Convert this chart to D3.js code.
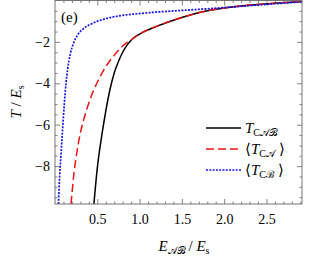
<!DOCTYPE html>
<html>
<head>
<meta charset="utf-8">
<script src="https://cdn.jsdelivr.net/npm/d3@7"></script>
<style>
  body { margin: 0; background: #fff; }
  .axis path { display: none; }
  .axis line { stroke: #666; stroke-width: 0.8; }
</style>
</head>
<body>
<svg id="chart" width="309" height="259"></svg>
<script>
// T_CAB (black solid)
const eBlack = [0.46, 0.50, 0.55, 0.60, 0.65, 0.70, 0.75, 0.80, 0.85, 0.90, 0.95, 1.0, 1.2, 1.4, 1.6, 1.8, 2.0, 2.2, 2.4, 2.6, 2.8, 2.92];
const tBlack = [-9.83, -8.1, -6.6, -5.35, -4.3, -3.5, -2.95, -2.5, -2.17, -1.92, -1.75, -1.62, -1.25, -0.95, -0.70, -0.50, -0.36, -0.26, -0.19, -0.13, -0.08, -0.05];
// <T_CA> (red dashed)
const eRed = [0.19, 0.22, 0.26, 0.30, 0.35, 0.40, 0.45, 0.50, 0.55, 0.60, 0.70, 0.80, 0.90, 1.0, 1.2, 1.4, 1.6, 1.8, 2.0, 2.2, 2.4, 2.6, 2.8, 2.92];
const tRed = [-9.83, -8.5, -7.3, -6.4, -5.6, -4.95, -4.4, -3.95, -3.55, -3.2, -2.65, -2.2, -1.9, -1.62, -1.25, -0.95, -0.70, -0.50, -0.36, -0.26, -0.19, -0.13, -0.08, -0.05];
// <T_CB> (blue dotted)
const eBlue = [0.041, 0.05, 0.07, 0.09, 0.11, 0.13, 0.15, 0.18, 0.22, 0.27, 0.33, 0.43, 0.58, 0.78, 1.0, 1.2, 1.5, 1.8, 2.1, 2.4, 2.7, 2.92];
const tBlue = [-9.83, -8.9, -7.5, -6.2, -5.0, -4.0, -3.3, -2.6, -2.05, -1.65, -1.38, -1.13, -0.90, -0.73, -0.63, -0.56, -0.48, -0.40, -0.31, -0.22, -0.13, -0.065];

const xMajor = [0.5, 1.0, 1.5, 2.0, 2.5];
const yMajor = [-2, -4, -6, -8];

const SERIF = "'Liberation Serif'";

var svg = d3.select("#chart"),
  margin = {top: 0.5, left: 55, bottom: 55, right: 7},
  width = +svg.attr("width") - margin.left - margin.right,
  height = +svg.attr("height") - margin.top - margin.bottom;

var x = d3.scaleLinear().domain([0, 2.92]).range([margin.left, margin.left + width]);
var y = d3.scaleLinear().domain([-9.83, 0]).range([margin.top + height, margin.top]);

var xMinor = d3.range(0.1, 2.92, 0.1).filter(v => Math.abs(v * 2 - Math.round(v * 2)) > 0.01);
var yMinor = d3.range(-9.5, 0, 0.5).filter(v => Math.abs(v / 2 - Math.round(v / 2)) > 0.01);

var fmtX = d3.format(".1f");
var fmtY = d3.format("d");

function addAxis(axis, tx, ty) {
  var g = svg.append("g").attr("class", "axis")
    .attr("transform", "translate(" + tx + "," + ty + ")")
    .call(axis);
  g.selectAll("text")
    .style("font-family", SERIF)
    .style("font-size", "14px")
    .attr("fill", "#000");
  return g;
}

// bottom + top
addAxis(d3.axisBottom(x).tickValues(xMajor).tickSize(-5).tickPadding(10).tickFormat(fmtX), 0, y.range()[0]);
addAxis(d3.axisBottom(x).tickValues(xMinor).tickSize(-2.5).tickFormat(""), 0, y.range()[0]);
addAxis(d3.axisTop(x).tickValues(xMajor).tickSize(-5).tickFormat(""), 0, y.range()[1]);
addAxis(d3.axisTop(x).tickValues(xMinor).tickSize(-2.5).tickFormat(""), 0, y.range()[1]);
// left + right
addAxis(d3.axisLeft(y).tickValues(yMajor).tickSize(-5).tickPadding(5).tickFormat(fmtY), x.range()[0], 0);
addAxis(d3.axisLeft(y).tickValues(yMinor).tickSize(-2.5).tickFormat(""), x.range()[0], 0);
addAxis(d3.axisRight(y).tickValues(yMajor).tickSize(-5).tickFormat(""), x.range()[1], 0);
addAxis(d3.axisRight(y).tickValues(yMinor).tickSize(-2.5).tickFormat(""), x.range()[1], 0);

// curves
var line = d3.line()
  .x(d => x(d[0]))
  .y(d => y(d[1]))
  .curve(d3.curveMonotoneX);

svg.append("clipPath").attr("id", "clip").append("rect")
  .attr("x", x.range()[0]).attr("y", y.range()[1])
  .attr("width", width).attr("height", height);

var plot = svg.append("g").attr("clip-path", "url(#clip)");

var series = [
  {e: eBlack, t: tBlack, color: "#000", dash: null, w: 1.5},
  {e: eRed, t: tRed, color: "#ee1111", dash: "8,4", w: 1.5},
  {e: eBlue, t: tBlue, color: "#1515ee", dash: "2,1.3", w: 1.7}
];

series.forEach(s => {
  plot.append("path")
    .datum(s.e.map((v, i) => [v, s.t[i]]))
    .attr("fill", "none")
    .attr("stroke", s.color)
    .attr("stroke-width", s.w)
    .attr("stroke-dasharray", s.dash)
    .attr("d", line);
});

// frame
svg.append("rect")
  .attr("x", x.range()[0]).attr("y", y.range()[1])
  .attr("width", width).attr("height", height)
  .attr("fill", "none").attr("stroke", "#666").attr("stroke-width", 0.9);

function txt(sel) {
  return sel.style("font-family", SERIF).style("font-size", "15px").attr("fill", "#000");
}

// panel label
txt(svg.append("text").attr("x", 61).attr("y", 22)).text("(e)");

// axis titles
var xt = txt(svg.append("text").attr("x", 184).attr("y", 251).attr("text-anchor", "middle"));
xt.append("tspan").attr("font-style", "italic").text("E");
xt.append("tspan").style("font-size", "10px").attr("dy", 3).text("𝒜ℬ");
xt.append("tspan").attr("dy", -3).text("  /  ");
xt.append("tspan").attr("font-style", "italic").text("E");
xt.append("tspan").style("font-size", "10px").attr("dy", 3).text("s");

var yt = txt(svg.append("text").attr("transform", "translate(21,102) rotate(-90)")
  .attr("text-anchor", "middle"));
yt.append("tspan").attr("font-style", "italic").text("T");
yt.append("tspan").text(" / ");
yt.append("tspan").attr("font-style", "italic").text("E");
yt.append("tspan").style("font-size", "10px").attr("dy", 3).text("s");

// legend
var legendRows = [
  {pre: "", sub: "C𝒜ℬ", post: "", s: series[0], yy: 128},
  {pre: "⟨", sub: "C𝒜", post: "⟩", s: series[1], yy: 149},
  {pre: "⟨", sub: "Cℬ", post: "⟩", s: series[2], yy: 170}
];
legendRows.forEach(r => {
  svg.append("line")
    .attr("x1", 206).attr("x2", 241).attr("y1", r.yy).attr("y2", r.yy)
    .attr("stroke", r.s.color).attr("stroke-width", r.s.w)
    .attr("stroke-dasharray", r.s.dash);
  var t = txt(svg.append("text").attr("x", 245).attr("y", r.yy + 5));
  if (r.pre) t.append("tspan").text(r.pre);
  t.append("tspan").attr("font-style", "italic").text("T");
  t.append("tspan").style("font-size", "10px").attr("dy", 3).text(r.sub);
  if (r.post) t.append("tspan").attr("dy", -3).text(" " + r.post);
});
</script>
</body>
</html>
